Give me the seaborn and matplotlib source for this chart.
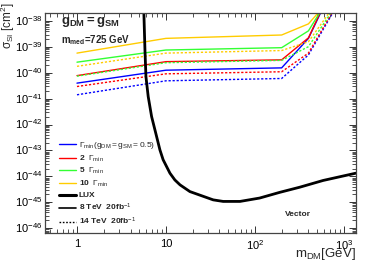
import matplotlib
matplotlib.use("Agg")
import matplotlib.pyplot as plt
import matplotlib.ticker as mticker
from matplotlib.lines import Line2D
import numpy as np
import seaborn as sb

# valores (expoentes de 10, em cm^2)
m_dm = [1, 10, 200, 400, 600]
m_dm_14 = [1, 10, 200, 400, 1000]

g1_8tev = [-40.40, -39.90, -39.81, -38.67, -37.40]
g2_8tev = [-40.11, -39.57, -39.50, -38.65, -37.35]
g5_8tev = [-39.59, -39.12, -39.03, -38.38, -37.40]
g10_8tev = [-39.24, -38.67, -38.54, -38.11, -37.42]

g1_14tev = [-40.85, -40.31, -40.22, -39.31, -36.94]
g2_14tev = [-40.53, -40.04, -39.96, -39.24, -36.89]
g5_14tev = [-40.13, -39.61, -39.52, -38.99, -36.93]
g10_14tev = [-39.75, -39.24, -39.14, -38.80, -36.89]

lux_m = [5.62, 5.81, 5.96, 6.32, 6.9, 7.85, 8.56, 9.3, 11.1, 12.6, 14.4, 18.6,
         34, 44, 68, 113, 190, 320, 585, 1360]
lux_sigma = [-37.42, -39.12, -40.15, -40.92, -41.69, -42.46, -42.98, -43.36, -43.88,
             -44.14, -44.33, -44.59, -44.91, -44.97, -44.97, -44.84, -44.62, -44.42,
             -44.16, -43.88]

cores = ['#0000ff', '#ff0000', '#33ff33', '#ffcc00']
legendas = [r'$\Gamma_{min}(g_{DM}=g_{SM}=0.5)$', r'2  $\Gamma_{min}$',
            r'5  $\Gamma_{min}$', r'10  $\Gamma_{min}$']

sb.set_style('ticks')
plt.rcParams['font.family'] = ['Liberation Sans', 'DejaVu Sans']
plt.rcParams['mathtext.fontset'] = 'custom'
plt.rcParams['mathtext.rm'] = 'Liberation Sans'
plt.rcParams['mathtext.it'] = 'Liberation Sans'
plt.rcParams['mathtext.bf'] = 'Liberation Sans:bold'

fig = plt.figure(figsize=(3.74, 2.68), dpi=100)
ax = fig.add_axes([45 / 374, 1 - 233 / 268, 311 / 374, 220 / 268])

tracejado = (0, (1.6, 1.3))
for s8, s14, cor in zip([g1_8tev, g2_8tev, g5_8tev, g10_8tev],
                        [g1_14tev, g2_14tev, g5_14tev, g10_14tev], cores):
    sb.lineplot(x=m_dm_14, y=10.0 ** np.array(s14), ax=ax, color=cor, lw=1.0,
                linestyle=tracejado, estimator=None)
    sb.lineplot(x=m_dm, y=10.0 ** np.array(s8), ax=ax, color=cor, lw=1.0, estimator=None)

sb.lineplot(x=lux_m, y=10.0 ** np.array(lux_sigma), ax=ax, color='black', lw=2.0,
            estimator=None)

ax.set_xscale('log')
ax.set_yscale('log')
ax.set_xlim(0.437, 1370)
ax.set_ylim(10 ** -46.19, 10 ** -37.69)

ax.xaxis.set_major_locator(mticker.FixedLocator([1, 10, 100, 1000]))
ax.xaxis.set_major_formatter(mticker.FixedFormatter(['1', '10', r'$10^{2}$', r'$10^{3}$']))
ax.xaxis.set_minor_locator(mticker.LogLocator(base=10, subs=np.arange(2, 10), numticks=20))
ax.xaxis.set_minor_formatter(mticker.NullFormatter())
ylocs = [10.0 ** e for e in range(-46, -37)]
ax.yaxis.set_major_locator(mticker.FixedLocator(ylocs))
ax.yaxis.set_major_formatter(mticker.FixedFormatter([r'$10^{%d}$' % e for e in range(-46, -37)]))
ax.yaxis.set_minor_locator(mticker.LogLocator(base=10, subs=np.arange(2, 10), numticks=30))
ax.yaxis.set_minor_formatter(mticker.NullFormatter())
ax.tick_params(which='both', direction='in', top=True, right=True, colors='#333333',
               labelcolor='black', labelsize=8)
ax.tick_params(which='major', length=5, width=0.7)
ax.tick_params(which='minor', length=3, width=0.6)
ax.tick_params(axis='x', pad=4)
ax.tick_params(axis='y', pad=2)
for lbl in ax.get_yticklabels():
    lbl.set_va('center')
for sp in ax.spines.values():
    sp.set_color('#444444')
    sp.set_linewidth(0.9)
ax.set_xlabel('')
ax.set_ylabel('')

fig.text(356 / 374, 1 - 254 / 268, r'm$_{DM}$[GeV]', ha='right', va='center', fontsize=9.5)
fig.text(8 / 374, 1 - 2 / 268, r'$\sigma_{SI}$ [cm$^{2}$]', ha='center', va='top',
         rotation=90, fontsize=8.5)
fig.text(61 / 374, 1 - 22 / 268, r'$\mathbf{g_{DM}=g_{SM}}$', ha='left', va='center',
         fontsize=9.5, fontweight='bold')
fig.text(61 / 374, 1 - 40 / 268, r'$\mathbf{m_{med}}$=725 GeV', ha='left', va='center',
         fontsize=7, fontweight='bold')
fig.text(298 / 374, 1 - 215 / 268, 'Vector', ha='center', va='center',
         fontsize=6, fontweight='bold')

handles = [Line2D([], [], color=c, lw=1.0) for c in cores]
handles.append(Line2D([], [], color='black', lw=2.2))
handles.append(Line2D([], [], color='black', lw=1.2))
handles.append(Line2D([], [], color='black', lw=1.0, linestyle=(0, (1.2, 1.2))))
rotulos = legendas + ['LUX', r'8 TeV  20fb$^{-1}$', r'14 TeV  20fb$^{-1}$']
leg = ax.legend(handles, rotulos, loc='upper left', bbox_to_anchor=(59 / 374, 1 - 140 / 268),
                bbox_transform=fig.transFigure, frameon=False, fontsize=6,
                handlelength=2.0, handletextpad=0.35, labelspacing=0.3,
                borderpad=0, borderaxespad=0)
for i, t in enumerate(leg.get_texts()):
    if i > 0:
        t.set_fontweight('bold')

fig.savefig('out.png', dpi=100)
